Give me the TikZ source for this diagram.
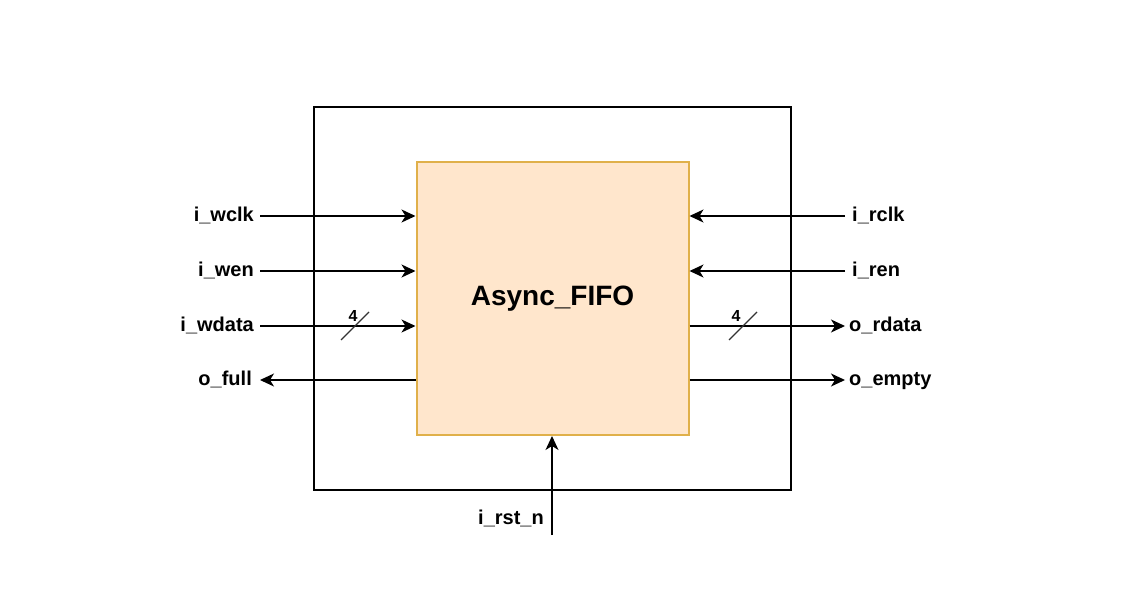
\documentclass[tikz,border=0pt]{standalone}
\usepackage{fontspec}
\setmainfont{Liberation Sans}
\usetikzlibrary{arrows.meta,positioning}
\definecolor{fifofill}{HTML}{FFE6CC}
\definecolor{fifoline}{HTML}{E0B04A}
\begin{document}
\begin{tikzpicture}[x=1pt, y=-1pt,
        shell/.style={draw=black, line width=1.2pt, minimum width=477pt, minimum height=383pt, inner sep=0pt},
        core/.style={draw=fifoline, fill=fifofill, line width=2pt, minimum width=272pt, minimum height=273pt,
          font=\fontsize{28}{32}\selectfont\bfseries},
        lbl/.style={font=\fontsize{20}{24}\selectfont\bfseries, inner sep=0pt, text height=15pt, text depth=5pt},
        num/.style={font=\fontsize{16}{18}\selectfont\bfseries, inner sep=0pt},
        sig/.style={line width=1.3pt, -{Stealth[length=14pt, width=13pt, inset=4pt]}},
        bus/.style={line width=1.1pt, black!80}
      ]
      \useasboundingbox (0,0) rectangle (1133,597);
      \node[shell] (shell) at (552.5,298.5) {};
      \node[core] (fifo) at (552.5,298.5) {Async\_FIFO};
      % write side
      \foreach \nm/\txt/\y in {wclk/i\_wclk/216, wen/i\_wen/271, wdata/i\_wdata/326} {
        \coordinate (\nm) at (260,\y);
        \node[lbl, left=6pt of \nm] (\nm lbl) {\txt};
        \draw[sig] (\nm) -- (\nm -| fifo.west);
      }
      \coordinate (full) at (260,380);
      \node[lbl, left=8pt of full] (fulllbl) {o\_full};
      \draw[sig] (full -| fifo.west) -- (full);
      % read side
      \foreach \nm/\txt/\y in {rclk/i\_rclk/216, ren/i\_ren/271} {
        \coordinate (\nm) at (845,\y);
        \node[lbl, right=7pt of \nm] (\nm lbl) {\txt};
        \draw[sig] (\nm) -- (\nm -| fifo.east);
      }
      \foreach \nm/\txt/\y in {rdata/o\_rdata/326, empty/o\_empty/380} {
        \coordinate (\nm) at (845,\y);
        \node[lbl, right=4pt of \nm] (\nm lbl) {\txt};
        \draw[sig] (\nm -| fifo.east) -- (\nm);
      }
      % bus width marks
      \coordinate (wbus) at (355,326);
      \draw[bus] (wbus) ++(-14,14) -- ++(28,-28);
      \node[num] (wnum) at (353,316) {4};
      \coordinate (rbus) at (743,326);
      \draw[bus] (rbus) ++(-14,14) -- ++(28,-28);
      \node[num] (rnum) at (736,316) {4};
      % reset
      \coordinate (rst) at (552,535);
      \draw[sig] (rst) -- (rst |- fifo.south);
      \node[lbl, anchor=east] (rstlbl) at (544,519) {i\_rst\_n};
    \end{tikzpicture}
\end{document}
